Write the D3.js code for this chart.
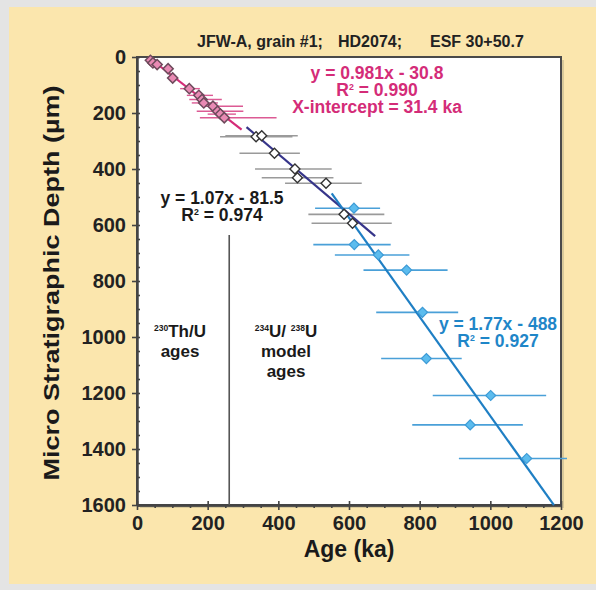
<!DOCTYPE html>
<html><head><meta charset="utf-8">
<script src="https://cdn.jsdelivr.net/npm/d3@7"></script>
<style>
body{margin:0;background:#fff;}
svg text{font-family:"Liberation Sans",Arial,Helvetica,sans-serif;font-weight:bold;}
</style></head>
<body>
<svg id="chart" width="596" height="590"></svg>
<script>
// ---------- data ----------
const titleParts = ["JFW-A, grain #1;", "HD2074;", "ESF 30+50.7"];

const pinkAge   = [38, 45, 57, 88, 101, 148, 175, 184, 189, 215, 228, 236, 247];
const pinkDepth = [12, 21, 27, 42, 75, 113, 137, 152, 164, 176, 194, 204, 217];
const pinkLo    = [32, 39, 51, 82, 95, 122, 141, 148, 155, 190, 169, 200, 178];
const pinkHi    = [44, 51, 63, 94, 107, 178, 215, 240, 229, 300, 301, 280, 395];

const grayAge   = [337, 353, 389, 447, 454, 535, 586, 610];
const grayDepth = [285, 281, 344, 400, 431, 451, 562, 594];
const grayLo    = [235, 250, 290, 334, 353, 419, 485, 494];
const grayHi    = [440, 455, 461, 551, 556, 636, 700, 721];

const blueAge   = [614, 615, 683, 763, 808, 819, 1001, 943, 1103];
const blueDepth = [540, 670, 707, 761, 912, 1077, 1209, 1314, 1434];
const blueLo    = [504, 499, 560, 641, 677, 691, 837, 779, 911];
const blueHi    = [688, 718, 771, 879, 909, 919, 1158, 1092, 1217];

const fitSlope     = [0.981, 1.07, 1.77];
const fitIntercept = [-30.8, -81.5, -488];
const fitFrom      = [31.4, 310, 551];
const fitTo        = [296, 674, 1180];

const xTicks = [0, 200, 400, 600, 800, 1000, 1200];
const yTicks = [0, 200, 400, 600, 800, 1000, 1200, 1400, 1600];
const dividerAge = 261, dividerTop = 636;

// ---------- layout ----------
const svg = d3.select("#chart");
const L = 137, R = 561, T = 57, B = 505;
const x = d3.scaleLinear().domain([0, 1200]).range([L, R]);
const y = d3.scaleLinear().domain([0, 1600]).range([T, B]);
const fmt = d3.format("d");

// background panel
svg.append("rect").attr("width", 596).attr("height", 590).attr("fill", "#e4e4e4");
svg.append("rect").attr("x", 9).attr("y", 7).attr("width", 587).attr("height", 577).attr("fill", "#fbe6ad");
// plot shadow + area
svg.append("rect").attr("x", L + 3).attr("y", T + 3).attr("width", R - L).attr("height", B - T).attr("fill", "#d8c99a");
svg.append("rect").attr("x", L).attr("y", T).attr("width", R - L).attr("height", B - T)
  .attr("fill", "#fff").attr("stroke", "#4a4a4a").attr("stroke-width", 2);

// title
const titleX = [197, 338, 430];
svg.append("g").selectAll("text").data(titleParts).join("text")
  .attr("x", (d, i) => titleX[i]).attr("y", 47)
  .attr("font-size", 16).attr("fill", "#222").text(d => d);

// axes
function styleAxis(g) {
  g.select(".domain").attr("stroke", "#444").attr("stroke-width", 2);
  g.selectAll(".tick line").attr("stroke", "#444").attr("stroke-width", 1.6);
  g.selectAll("text").attr("font-size", 20).attr("fill", "#222")
    .attr("font-family", '"Liberation Sans",Arial,sans-serif').attr("font-weight", "bold");
}
const minorX = d3.range(0, 1201, 50).filter(v => v % 200 !== 0);
const minorY = d3.range(0, 1601, 50).filter(v => v % 200 !== 0);

svg.append("g").attr("transform", `translate(0,${B})`)
  .call(d3.axisBottom(x).tickValues(xTicks).tickFormat(fmt).tickSize(5).tickPadding(6).tickSizeOuter(0))
  .call(styleAxis);
svg.append("g").attr("transform", `translate(0,${B})`)
  .call(d3.axisBottom(x).tickValues(minorX).tickSize(3).tickFormat("").tickSizeOuter(0))
  .call(styleAxis);
svg.append("g").attr("transform", `translate(0,${B})`)
  .call(d3.axisTop(x).tickValues(xTicks).tickSize(4).tickFormat("").tickSizeOuter(0))
  .call(styleAxis);

svg.append("g").attr("transform", `translate(${L},0)`)
  .call(d3.axisLeft(y).tickValues(yTicks).tickFormat(fmt).tickSize(5).tickPadding(6).tickSizeOuter(0))
  .call(styleAxis);
svg.append("g").attr("transform", `translate(${L},0)`)
  .call(d3.axisRight(y).tickValues(yTicks.concat(minorY)).tickSize(3).tickFormat("").tickSizeOuter(0))
  .call(styleAxis);

// axis titles
svg.append("text").attr("x", (L + R) / 2).attr("y", 557).attr("text-anchor", "middle")
  .attr("font-size", 23).attr("fill", "#1a1a1a").text("Age (ka)");
svg.append("text").attr("transform", `translate(59,${(T + B) / 2 + 2}) rotate(-90)`)
  .attr("text-anchor", "middle").attr("font-size", 22).attr("fill", "#1a1a1a")
  .attr("textLength", 395).attr("lengthAdjust", "spacingAndGlyphs")
  .text("Micro Stratigraphic Depth (µm)");

// divider
svg.append("line").attr("x1", x(dividerAge)).attr("x2", x(dividerAge))
  .attr("y1", y(dividerTop)).attr("y2", B).attr("stroke", "#555").attr("stroke-width", 1.6);

// series helper
function series(ages, depths, lo, hi) {
  return ages.map((a, i) => ({ a, d: depths[i], lo: lo[i], hi: hi[i] }));
}
const pink = series(pinkAge, pinkDepth, pinkLo, pinkHi);
const gray = series(grayAge, grayDepth, grayLo, grayHi);
const blue = series(blueAge, blueDepth, blueLo, blueHi);

function errBars(data, color, w) {
  svg.append("g").selectAll("line").data(data).join("line")
    .attr("x1", d => x(d.lo)).attr("x2", d => x(d.hi))
    .attr("y1", d => y(d.d)).attr("y2", d => y(d.d))
    .attr("stroke", color).attr("stroke-width", w);
}
errBars(blue, "#4aa0d8", 1.6);
errBars(gray, "#9a9a9a", 1.6);
errBars(pink, "#dc5a94", 1.4);

// regression lines
const fitColors = ["#d42c78", "#36358a", "#1f7fc4"];
fitSlope.forEach((s, i) => {
  const a0 = fitFrom[i], a1 = fitTo[i];
  svg.append("line")
    .attr("x1", x(a0)).attr("y1", y(s * a0 + fitIntercept[i]))
    .attr("x2", x(a1)).attr("y2", y(s * a1 + fitIntercept[i]))
    .attr("stroke", fitColors[i]).attr("stroke-width", 2.2);
});

// points
function points(data, size, fill, stroke, sw) {
  const sym = d3.symbol(d3.symbolSquare, size);
  svg.append("g").selectAll("path").data(data).join("path")
    .attr("d", sym)
    .attr("transform", d => `translate(${x(d.a)},${y(d.d)}) rotate(45)`)
    .attr("fill", fill).attr("stroke", stroke).attr("stroke-width", sw);
}
points(gray, 50, "#fff", "#333", 1.4);
points(blue, 50, "#5cbcee", "#3d9bd6", 1.2);
points(pink, 52, "#e98ab4", "#6e4a5c", 1.5);

// annotations
function block(lines, cx, y0, dy, color, size) {
  lines.forEach((ln, i) => {
    const t = svg.append("text").attr("x", cx).attr("y", y0 + i * dy)
      .attr("text-anchor", "middle").attr("font-size", size).attr("fill", color);
    ln.forEach(seg => {
      const s = t.append("tspan").text(seg.t);
      if (seg.sup) s.attr("font-size", size * 0.5).attr("baseline-shift", "70%");
    });
  });
}
block([[{ t: "y = 0.981x - 30.8" }], [{ t: "R" }, { t: "2", sup: true }, { t: " = 0.990" }],
  [{ t: "X-intercept = 31.4 ka" }]], 377, 79, 17, "#d42c78", 17.5);
block([[{ t: "y = 1.07x - 81.5" }], [{ t: "R" }, { t: "2", sup: true }, { t: " = 0.974" }]],
  222, 204, 17, "#1a1a1a", 17.5);
block([[{ t: "y = 1.77x - 488" }], [{ t: "R" }, { t: "2", sup: true }, { t: " = 0.927" }]],
  498, 330, 17, "#1f86c8", 17.5);
block([[{ t: "230", sup: true }, { t: "Th/U" }], [{ t: "ages" }]], 180, 337, 20, "#1a1a1a", 17);
block([[{ t: "234", sup: true }, { t: "U/ " }, { t: "238", sup: true }, { t: "U" }], [{ t: "model" }], [{ t: "ages" }]],
  286, 337, 20, "#1a1a1a", 17);
</script>
</body></html>
